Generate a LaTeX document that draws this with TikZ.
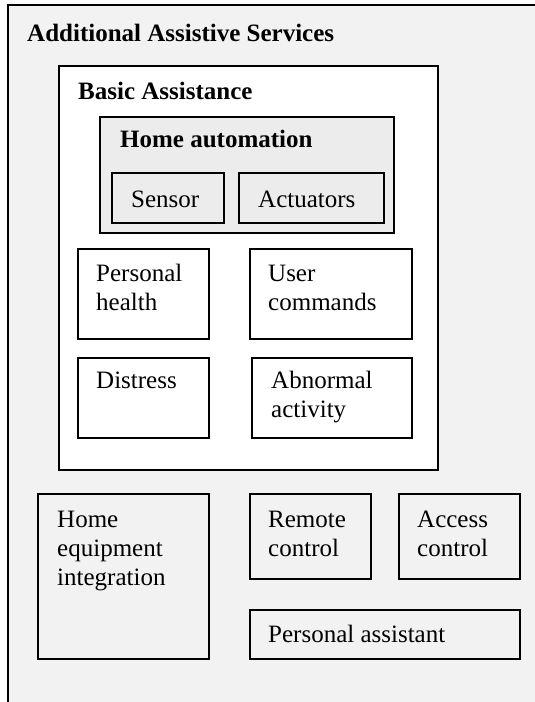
\documentclass[tikz,border=0pt]{standalone}
\usepackage{fontspec}
\setmainfont{Liberation Serif}
\definecolor{panelgray}{RGB}{242,242,242}
\definecolor{dotgray}{RGB}{236,236,236}
\tikzset{
  box/.style={draw=black, line width=1.8pt, inner sep=0pt, anchor=north west, rectangle},
  whitebox/.style={box, fill=white},
  shadedbox/.style={box, fill=dotgray},
  lbl/.style={anchor=base west, inner sep=0pt, align=left,
              font=\fontsize{25}{29}\selectfont},
  head/.style={lbl, font=\fontsize{25}{29}\selectfont\bfseries},
}
\begin{document}
\begin{tikzpicture}[x=1pt, y=-1pt]
  \useasboundingbox (0,0) rectangle (535,702);

  % outer panel: grey background, frame on the left and top only
  \fill[panelgray] (8,5) rectangle (535,702);
  \coordinate (oTL) at (8,5);
  \coordinate (oBL) at (8,702);
  \coordinate (oTR) at (535,5);
  \draw[line width=1.8pt] (oBL) -- (oTL) -- (oTR);
  \node[head] (tAdd) at (27,41) {Additional Assistive Services};

  % basic assistance group
  \node[whitebox, minimum width=379pt, minimum height=404pt] (basic) at (58,65) {};
  \node[head] (tBasic) at (78,99) {Basic Assistance};

  % home automation group
  \node[shadedbox, minimum width=294pt, minimum height=116pt] (home) at (99,116) {};
  \node[head] (tHome) at (120,147) {Home automation};
  \node[box, minimum width=112pt, minimum height=50pt] (sensor) at (111,172) {};
  \node[lbl] (tSensor) at (131,207) {Sensor};
  \node[box, minimum width=145pt, minimum height=50pt] (actuators) at (238,172) {};
  \node[lbl] (tAct) at (258,207) {Actuators};

  % basic services (base anchor sits on the last line)
  \node[box, minimum width=131pt, minimum height=90pt] (health) at (77,248) {};
  \node[lbl] (tHealth) at (96,310) {Personal\\health};
  \node[box, minimum width=162pt, minimum height=90pt] (commands) at (249,248) {};
  \node[lbl] (tCmd) at (268,310) {User\\commands};
  \node[box, minimum width=131pt, minimum height=80pt] (distress) at (77,357) {};
  \node[lbl] (tDistress) at (96,388) {Distress};
  \node[box, minimum width=160pt, minimum height=80pt] (abnormal) at (251,357) {};
  \node[lbl] (tAbn) at (271,417) {Abnormal\\activity};

  % additional services
  \node[box, minimum width=171pt, minimum height=165pt] (equip) at (37,493) {};
  \node[lbl] (tEquip) at (57,585) {Home\\equipment\\integration};
  \node[box, minimum width=121pt, minimum height=85pt] (remote) at (249,493) {};
  \node[lbl] (tRemote) at (268,556) {Remote\\control};
  \node[box, minimum width=121pt, minimum height=85pt] (access) at (398,493) {};
  \node[lbl] (tAccess) at (417,556) {Access\\control};
  \node[box, minimum width=270pt, minimum height=49pt] (assist) at (249,609) {};
  \node[lbl] (tAssist) at (268,642) {Personal assistant};
\end{tikzpicture}
\end{document}
